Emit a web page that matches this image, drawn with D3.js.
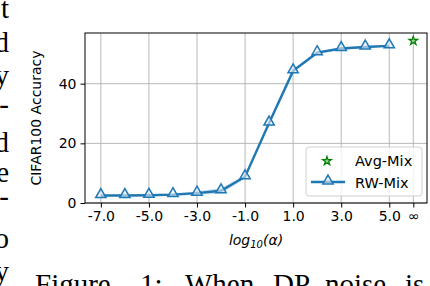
<!DOCTYPE html>
<html>
<head>
<meta charset="utf-8">
<script src="https://cdn.jsdelivr.net/npm/d3@7"></script>
<style>
  body { margin: 0; background: #fff; }
  svg { display: block; }
  .tick text { font-family: "DejaVu Sans", sans-serif; font-size: 14px; fill: #000; }
  .serif { font-family: "Liberation Serif", "DejaVu Serif", serif; font-size: 29px; fill: #000; }
</style>
</head>
<body>
<div id="chart"></div>
<script>
// log10(alpha) positions; 6 stands for the "∞" slot
const alphas = [-7, -6, -5, -4, -3, -2, -1, 0, 1, 2, 3, 4, 5];
const rwMix = [2.5, 2.5, 2.6, 2.8, 3.3, 4.1, 8.8, 26.8, 44.3, 50.4, 51.8, 52.3, 52.7];
const rwStd = [0.3, 0.3, 0.3, 0.4, 0.6, 0.9, 0.6, 0.5, 0.5, 0.4, 0.4, 0.3, 0.3];
const avgMix = [{ x: 6, y: 54.4 }];
const xTicks = [-7, -5, -3, -1, 1, 3, 5, 6];
const xTickLabels = ["-7.0", "-5.0", "-3.0", "-1.0", "1.0", "3.0", "5.0", "∞"];
const yTicks = [0, 20, 40];
// fragments of the surrounding paper text
const sideChars = [["t", 18], ["d", 52], ["y", 85], ["-", 114], ["d", 152], ["e", 182], ["-", 206], ["o", 248], ["y", 281]];
const caption = ["Figure", "1:", "When", "DP", "noise", "is"];

(function () {
  const width = 430, height = 286;
  const blue = "#1f77b4";

  const svg = d3.select("#chart").append("svg")
    .attr("width", width).attr("height", height);

  // --- paper text around the figure ---------------------------------------
  svg.selectAll("text.side")
    .data(sideChars)
    .join("text")
    .attr("class", "serif side")
    .attr("x", 9)
    .attr("y", d => d[1])
    .attr("text-anchor", "end")
    .text(d => d[0]);

  const capX = [35, 140, 185, 273, 325, 405];
  svg.selectAll("text.cap")
    .data(caption)
    .join("text")
    .attr("class", "serif cap")
    .attr("x", (d, i) => capX[i])
    .attr("y", 294)
    .text(d => d);

  // --- axes ----------------------------------------------------------------
  const left = 85, right = 427, top = 33, bottom = 203;
  const x = d3.scaleLinear().domain([-7.66, 6.57]).range([left, right]);
  const y = d3.scaleLinear().domain([0, 57]).range([bottom, top]);

  // grid
  const grid = svg.append("g").attr("stroke", "#b0b0b0").attr("stroke-width", 0.9);
  grid.selectAll("line.vg").data(xTicks).join("line")
    .attr("x1", d => x(d)).attr("x2", d => x(d))
    .attr("y1", top).attr("y2", bottom);
  grid.selectAll("line.hg").data(yTicks).join("line")
    .attr("x1", left).attr("x2", right)
    .attr("y1", d => y(d)).attr("y2", d => y(d));

  const xAxis = svg.append("g")
    .attr("transform", `translate(0,${bottom})`)
    .call(d3.axisBottom(x).tickValues(xTicks)
      .tickFormat((d, i) => xTickLabels[i]).tickSize(4.5).tickPadding(4));
  const yAxis = svg.append("g")
    .attr("transform", `translate(${left},0)`)
    .call(d3.axisLeft(y).tickValues(yTicks).tickSize(4.5).tickPadding(4));
  [xAxis, yAxis].forEach(a => {
    a.select(".domain").remove();
    a.selectAll(".tick line").attr("stroke", "#000").attr("stroke-width", 1);
  });

  // frame
  svg.append("rect")
    .attr("x", left).attr("y", top)
    .attr("width", right - left).attr("height", bottom - top)
    .attr("fill", "none").attr("stroke", "#000").attr("stroke-width", 1);

  // labels
  svg.append("text")
    .attr("transform", `translate(41,118) rotate(-90)`)
    .attr("text-anchor", "middle")
    .attr("font-family", "DejaVu Sans, sans-serif").attr("font-size", 14)
    .text("CIFAR100 Accuracy");

  const xl = svg.append("text")
    .attr("x", (left + right) / 2).attr("y", 245)
    .attr("text-anchor", "middle")
    .attr("font-family", "DejaVu Sans, sans-serif").attr("font-size", 14)
    .attr("font-style", "italic");
  xl.append("tspan").text("log");
  xl.append("tspan").attr("font-size", 10).attr("dy", 3).text("10");
  xl.append("tspan").attr("dy", -3).text("(α)");

  // --- RW-Mix series ---------------------------------------------------------
  const pts = alphas.map((a, i) => ({ x: a, y: rwMix[i], s: rwStd[i] }));

  svg.append("path")
    .datum(pts)
    .attr("fill", blue).attr("fill-opacity", 0.25)
    .attr("d", d3.area().x(d => x(d.x)).y0(d => y(d.y - d.s)).y1(d => y(d.y + d.s)));

  svg.append("path")
    .datum(pts)
    .attr("fill", "none").attr("stroke", blue).attr("stroke-width", 2.4)
    .attr("d", d3.line().x(d => x(d.x)).y(d => y(d.y)));

  const tri = d3.symbol().type(d3.symbolTriangle).size(46);
  svg.selectAll("path.tri").data(pts).join("path")
    .attr("class", "tri")
    .attr("transform", d => `translate(${x(d.x)},${y(d.y) - 1})`)
    .attr("d", tri)
    .attr("fill", "#e4eef7").attr("fill-opacity", 0.6)
    .attr("stroke", blue).attr("stroke-width", 1.5);

  // --- Avg-Mix star ----------------------------------------------------------
  const star = d3.symbol().type(d3.symbolStar).size(24);
  svg.selectAll("path.star").data(avgMix).join("path")
    .attr("class", "star")
    .attr("transform", d => `translate(${x(d.x)},${y(d.y)})`)
    .attr("d", star)
    .attr("fill", "#9fd09f").attr("stroke", "green").attr("stroke-width", 1.2);

  // --- legend ----------------------------------------------------------------
  const lg = svg.append("g");
  lg.append("rect")
    .attr("x", 306).attr("y", 147).attr("width", 116).attr("height", 49)
    .attr("rx", 3)
    .attr("fill", "#fff").attr("fill-opacity", 0.8)
    .attr("stroke", "#d0d0d0").attr("stroke-width", 1);
  lg.append("path")
    .attr("transform", "translate(327,161)")
    .attr("d", star)
    .attr("fill", "#9fd09f").attr("stroke", "green").attr("stroke-width", 1.2);
  lg.append("line")
    .attr("x1", 311).attr("x2", 345).attr("y1", 182).attr("y2", 182)
    .attr("stroke", blue).attr("stroke-width", 2.4);
  lg.append("path")
    .attr("transform", "translate(328,181)")
    .attr("d", tri)
    .attr("fill", "#e4eef7").attr("fill-opacity", 0.6)
    .attr("stroke", blue).attr("stroke-width", 1.5);
  lg.selectAll("text").data(["Avg-Mix", "RW-Mix"]).join("text")
    .attr("x", 355).attr("y", (d, i) => 166 + i * 22)
    .attr("font-family", "DejaVu Sans, sans-serif").attr("font-size", 14.5)
    .text(d => d);
})();
</script>
</body>
</html>
